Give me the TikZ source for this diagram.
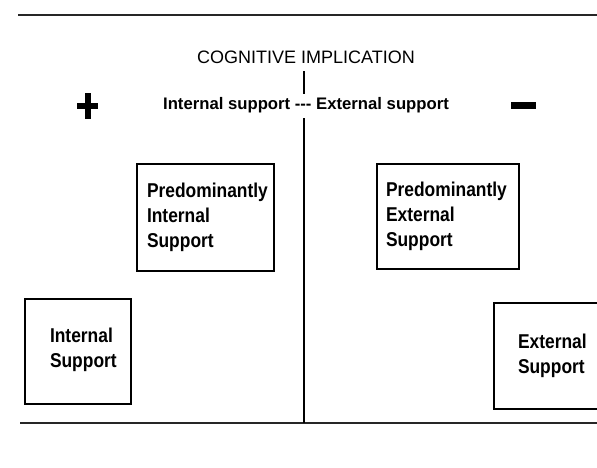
\documentclass[tikz,border=0pt]{standalone}
\usepackage{fontspec}
\setmainfont{Liberation Sans}
\newfontfamily\narrowsans[FakeStretch=0.87]{Liberation Sans}
\begin{document}
\begin{tikzpicture}[x=1pt,y=-1pt,
  rule/.style={line width=2.5pt,black!85},
  axis/.style={line width=2pt,black},
  supportbox/.style={draw,line width=2pt,anchor=north west,align=left,
    inner ysep=0pt,
    font=\narrowsans\bfseries\fontsize{20}{25}\selectfont},
  sign/.style={line width=6pt,black}]
\useasboundingbox (0,0) rectangle (597,467);

% horizontal rules
\coordinate (topL) at (18,15);
\coordinate (topR) at (597,15);
\coordinate (botL) at (20,423);
\coordinate (botR) at (597,423);
\draw[rule] (topL) -- (topR);
\draw[rule] (botL) -- (botR);

% headings
\node[font=\fontsize{18}{20}\selectfont] (title) at (306,57) {COGNITIVE IMPLICATION};
\node[font=\bfseries\fontsize{16.7}{20}\selectfont] (scale) at (306,105)
  {Internal support -{}-{}- External support};

% central axis, interrupted by the scale label
\coordinate (axTop) at (304,71);
\coordinate (axMid1) at (304,94);
\coordinate (axMid2) at (304,118);
\coordinate (axBot) at (304,423);
\draw[axis] (axTop) -- (axMid1);
\draw[axis] (axMid2) -- (axBot);

% plus and minus signs
\coordinate (plusL) at (77,106);
\coordinate (plusR) at (98,106);
\coordinate (plusT) at (88,93);
\coordinate (plusB) at (88,119);
\draw[sign] (plusL) -- (plusR);
\draw[sign,line width=5.5pt] (plusT) -- (plusB);
\coordinate (minusL) at (511,105.5);
\coordinate (minusR) at (536,105.5);
\draw[sign,line width=7pt] (minusL) -- (minusR);

% support boxes
\node[supportbox,inner xsep=10pt,text width=117pt,minimum height=107pt]
  (predint) at (136,163) {Predominantly\\Internal\\Support};
\node[supportbox,inner xsep=9pt,text width=124pt,minimum height=105pt]
  (predext) at (376,163) {Predominantly\\External\\Support};
\node[supportbox,inner xsep=25pt,text width=56pt,minimum height=105pt]
  (intsup) at (24,298) {Internal\\Support\\[-17pt]\mbox{}};
\node[supportbox,inner xsep=24pt,text width=72pt,minimum height=106pt]
  (extsup) at (493,302) {External\\Support};
\end{tikzpicture}
\end{document}
